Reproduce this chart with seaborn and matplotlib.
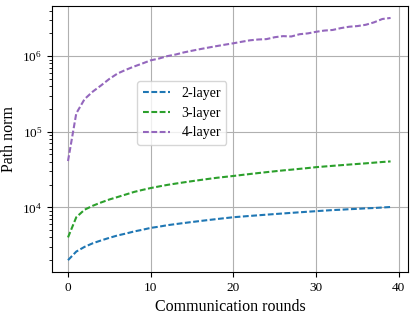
import numpy as np
import pandas as pd
import matplotlib
matplotlib.use("Agg")
import matplotlib.pyplot as plt
import seaborn as sns

# Data
rounds = list(range(40))
layer2 = [2000, 2600, 3000, 3350, 3650, 3950, 4250, 4500, 4800, 5050,
          5350, 5550, 5800, 6000, 6200, 6400, 6600, 6800, 7000, 7200,
          7400, 7550, 7700, 7850, 8000, 8150, 8300, 8450, 8600, 8750,
          8900, 9050, 9200, 9300, 9450, 9550, 9700, 9800, 9950, 10100]
layer3 = [4000, 7400, 9300, 10500, 11600, 12700, 13700, 14800, 16000, 17000,
          18000, 18900, 19800, 20600, 21400, 22200, 23000, 23800, 24600, 25300,
          26000, 26800, 27600, 28400, 29200, 30000, 30800, 31500, 32300, 33100,
          34000, 34700, 35400, 36100, 36800, 37500, 38200, 39000, 39800, 40500]
layer4 = [41000, 175000, 270000, 340000, 410000, 500000, 590000, 660000, 730000, 800000,
          880000, 930000, 1000000, 1050000, 1120000, 1180000, 1240000, 1300000, 1360000, 1420000,
          1480000, 1550000, 1620000, 1660000, 1680000, 1780000, 1840000, 1820000, 1950000, 2000000,
          2100000, 2180000, 2220000, 2350000, 2450000, 2500000, 2600000, 2800000, 3100000, 3200000]
labels = ["2-layer", "3-layer", "4-layer"]

df = pd.concat([
    pd.DataFrame({"round": rounds, "norm": vals, "model": lab})
    for vals, lab in zip([layer2, layer3, layer4], labels)
])

plt.rcParams["font.family"] = ["Liberation Serif", "DejaVu Serif"]
plt.rcParams["mathtext.fontset"] = "stix"

fig, ax = plt.subplots(figsize=(4.15, 3.18), dpi=100)
fig.subplots_adjust(left=0.125, right=0.983, top=0.981, bottom=0.145)

palette = ["tab:blue", "tab:green", "tab:purple"]
sns.lineplot(data=df, x="round", y="norm", hue="model", palette=palette,
             linestyle="--", linewidth=1.5, ax=ax, legend=False)
for line, lab in zip(ax.lines, labels):
    line.set_dashes((2.8, 1.2))
    line.set_label(lab)

ax.set_yscale("log")
ax.set_ylim(1400, 4.6e6)
ax.set_xlim(-1.95, 41.1)
ax.set_xticks([0, 10, 20, 30, 40])
ax.grid(True, which="major", color="#b0b0b0", linewidth=0.8)
ax.set_xlabel("Communication rounds", fontsize=11.5)
ax.set_ylabel("Path norm", fontsize=11.5)
ax.tick_params(labelsize=9.5)

ax.legend(loc="upper left", bbox_to_anchor=(0.239, 0.718), borderaxespad=0,
          fontsize=10, handlelength=2.0, framealpha=0.8)

fig.savefig("out.png", dpi=100)
